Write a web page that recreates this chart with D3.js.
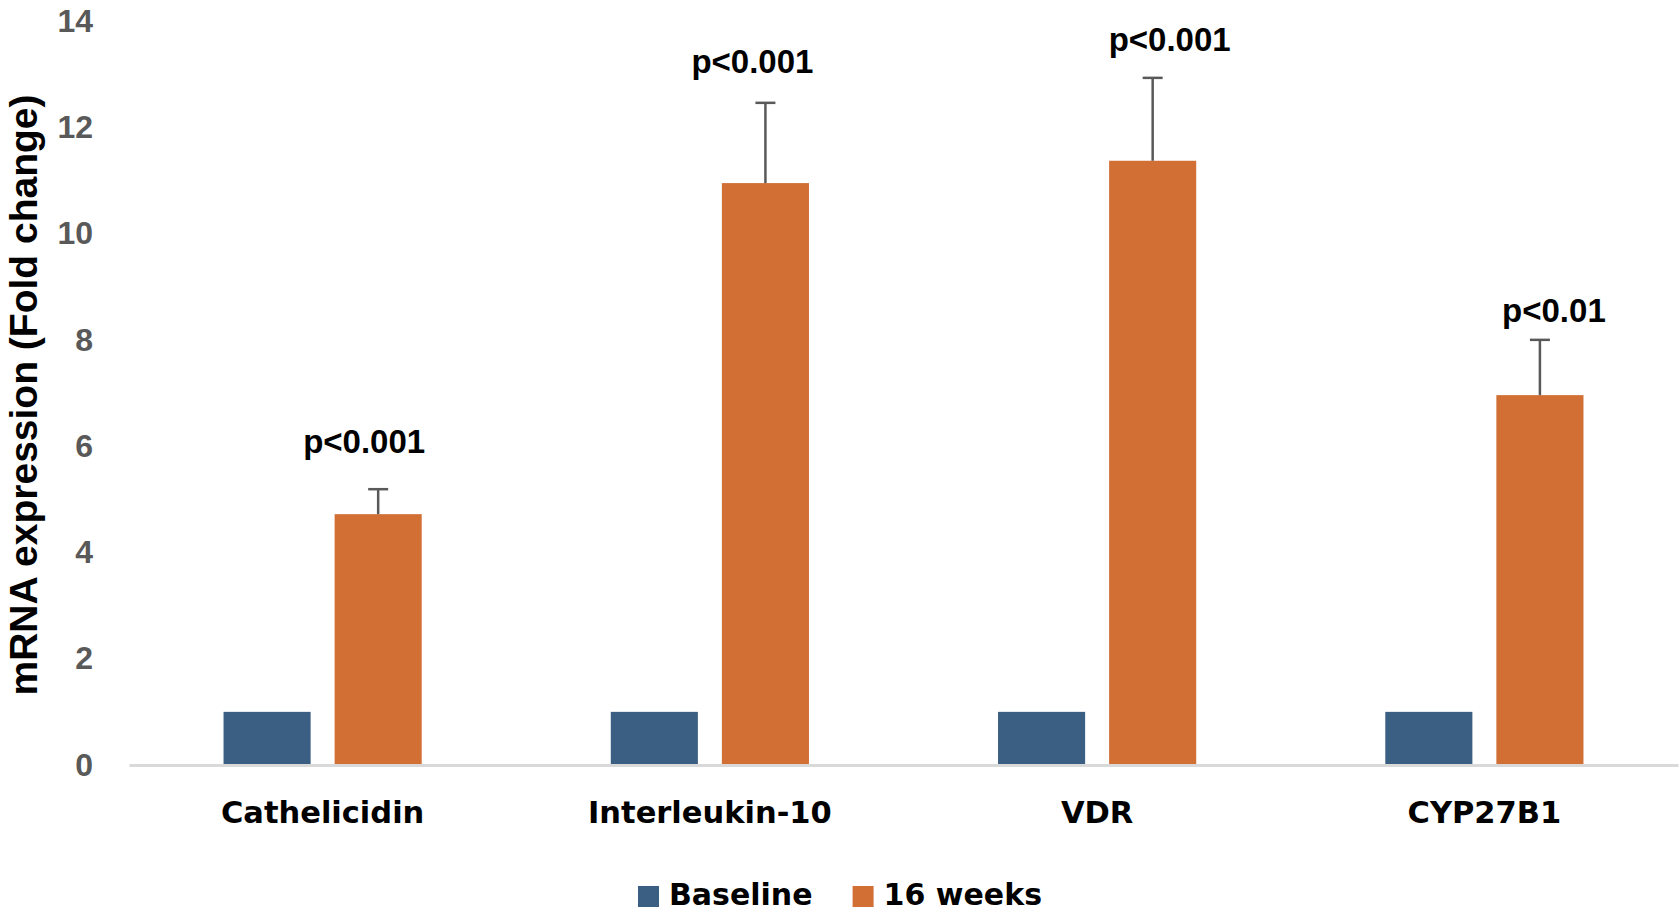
<!DOCTYPE html>
<html>
<head>
<meta charset="utf-8">
<script src="https://cdn.jsdelivr.net/npm/d3@7"></script>
<style>
  body { margin: 0; background: #fff; }
  svg { display: block; }
</style>
</head>
<body>
<svg id="chart" width="1680" height="920"></svg>
<script>
// Chart data
var categories = ["Cathelicidin", "Interleukin-10", "VDR", "CYP27B1"];
var seriesNames = ["Baseline", "16 weeks"];
var baselineValues = [1, 1, 1, 1];
var weekValues = [4.72, 10.95, 11.37, 6.96];
var weekErrors = [0.47, 1.51, 1.56, 1.04];
var pLabels = ["p<0.001", "p<0.001", "p<0.001", "p<0.01"];
var pLabelLevels = [5.87, 13.02, 13.44, 8.34];
var yTicks = [0, 2, 4, 6, 8, 10, 12, 14];

// Layout
var W = 1680, H = 920;
var plot = { left: 129, right: 1678, top: 21, bottom: 765 };
var colors = ["#3a5f82", "#d16f35"];
var pLabelDx = [-14, -13, 17, 14];
var wordFont = "'DejaVu Sans', sans-serif";
var numFont = "'Liberation Sans', Arial, sans-serif";

var svg = d3.select("#chart");

svg.append("rect")
  .attr("width", W)
  .attr("height", H)
  .style("fill", "#fff")
  ;

// Scales
var x0 = d3.scaleBand()
  .domain(categories)
  .range([plot.left, plot.right])
  .padding(0)
  ;

var x1 = d3.scaleBand()
  .domain(seriesNames)
  .range([0, x0.bandwidth()])
  .paddingInner(0.216)
  .paddingOuter(0.851)
  ;

var y = d3.scaleLinear()
  .domain([0, 14])
  .range([plot.bottom, plot.top])
  ;

// Rows of data per category
var rows = categories.map(function(c, i) {
  return {
    cat: c,
    vals: [
      { s: seriesNames[0], v: baselineValues[i], err: 0 },
      { s: seriesNames[1], v: weekValues[i], err: weekErrors[i] }
    ],
    p: pLabels[i],
    pLevel: pLabelLevels[i],
    dx: pLabelDx[i]
  };
});

// Y axis labels (no line, no ticks)
var yAxis = svg.append("g")
  .attr("transform", translate(93, 0))
  .call(d3.axisLeft(y).tickValues(yTicks).tickSize(0).tickPadding(0))
  ;
yAxis.select(".domain").remove();
yAxis.selectAll("text")
  .style("font-family", numFont)
  .style("font-weight", "bold")
  .style("font-size", "32px")
  .style("fill", "#595959")
  ;

// Y axis title
svg.append("text")
  .attr("transform", translate(37, 395) + " rotate(-90)")
  .attr("text-anchor", "middle")
  .style("font-family", numFont)
  .style("font-weight", "bold")
  .style("font-size", "39px")
  .style("fill", "#000")
  .text("mRNA expression (Fold change)")
  ;

// Bars
var groups = svg.append("g")
  .selectAll("g.group")
  .data(rows)
  .enter().append("g")
    .attr("class", "group")
    .attr("transform", function(d) { return translate(x0(d.cat), 0); })
  ;

groups.selectAll("rect")
  .data(function(d) { return d.vals; })
  .enter().append("rect")
    .attr("x", function(d) { return x1(d.s); })
    .attr("y", function(d) { return y(d.v); })
    .attr("width", x1.bandwidth())
    .attr("height", function(d) { return y(0) - y(d.v); })
    .style("fill", function(d, i) { return colors[i]; })
  ;

// Error bars (upper only)
var errs = groups.selectAll("g.err")
  .data(function(d) { return d.vals.filter(function(v) { return v.err > 0; }); })
  .enter().append("g")
    .attr("class", "err")
    .style("stroke", "#595959")
    .style("stroke-width", 2.5)
  ;

errs.append("line")
  .attr("x1", function(d) { return x1(d.s) + x1.bandwidth() / 2; })
  .attr("x2", function(d) { return x1(d.s) + x1.bandwidth() / 2; })
  .attr("y1", function(d) { return y(d.v); })
  .attr("y2", function(d) { return y(d.v + d.err); })
  ;

errs.append("line")
  .attr("x1", function(d) { return x1(d.s) + x1.bandwidth() / 2 - 10; })
  .attr("x2", function(d) { return x1(d.s) + x1.bandwidth() / 2 + 10; })
  .attr("y1", function(d) { return y(d.v + d.err); })
  .attr("y2", function(d) { return y(d.v + d.err); })
  ;

// p-value labels
groups.append("text")
  .attr("x", function(d) { return x1(seriesNames[1]) + x1.bandwidth() / 2 + d.dx; })
  .attr("y", function(d) { return y(d.pLevel); })
  .attr("text-anchor", "middle")
  .style("font-family", numFont)
  .style("font-weight", "bold")
  .style("font-size", "33px")
  .style("fill", "#000")
  .text(function(d) { return d.p; })
  ;

// X axis: gray baseline and category labels
var xAxis = svg.append("g")
  .attr("transform", translate(0, plot.bottom))
  .call(d3.axisBottom(x0).tickSize(0).tickSizeOuter(0))
  ;
xAxis.select(".domain")
  .style("stroke", "#d9d9d9")
  .style("stroke-width", 3)
  ;
xAxis.selectAll("text")
  .attr("y", 58)
  .attr("dy", 0)
  .style("font-family", wordFont)
  .style("font-weight", "bold")
  .style("font-size", "30.5px")
  .style("fill", "#000")
  ;

// Legend, centred on the page
var legend = svg.append("g").attr("class", "legend");
var items = legend.selectAll("g.item")
  .data(seriesNames)
  .enter().append("g")
    .attr("class", "item")
  ;
items.append("rect")
  .attr("y", -19)
  .attr("width", 21)
  .attr("height", 21)
  .style("fill", function(d, i) { return colors[i]; })
  ;
items.append("text")
  .attr("x", 31)
  .style("font-family", wordFont)
  .style("font-weight", "bold")
  .style("font-size", "30px")
  .style("fill", "#000")
  .text(function(d) { return d; })
  ;

var offset = 0;
items.each(function() {
  var g = d3.select(this);
  g.attr("transform", translate(offset, 0));
  offset += 31 + g.select("text").node().getComputedTextLength() + 40;
});
offset -= 40;
legend.attr("transform", translate(W / 2 - offset / 2, 905));

function translate(x, y) {
  return "translate(" + x + " " + y + ")";
}
</script>
</body>
</html>
